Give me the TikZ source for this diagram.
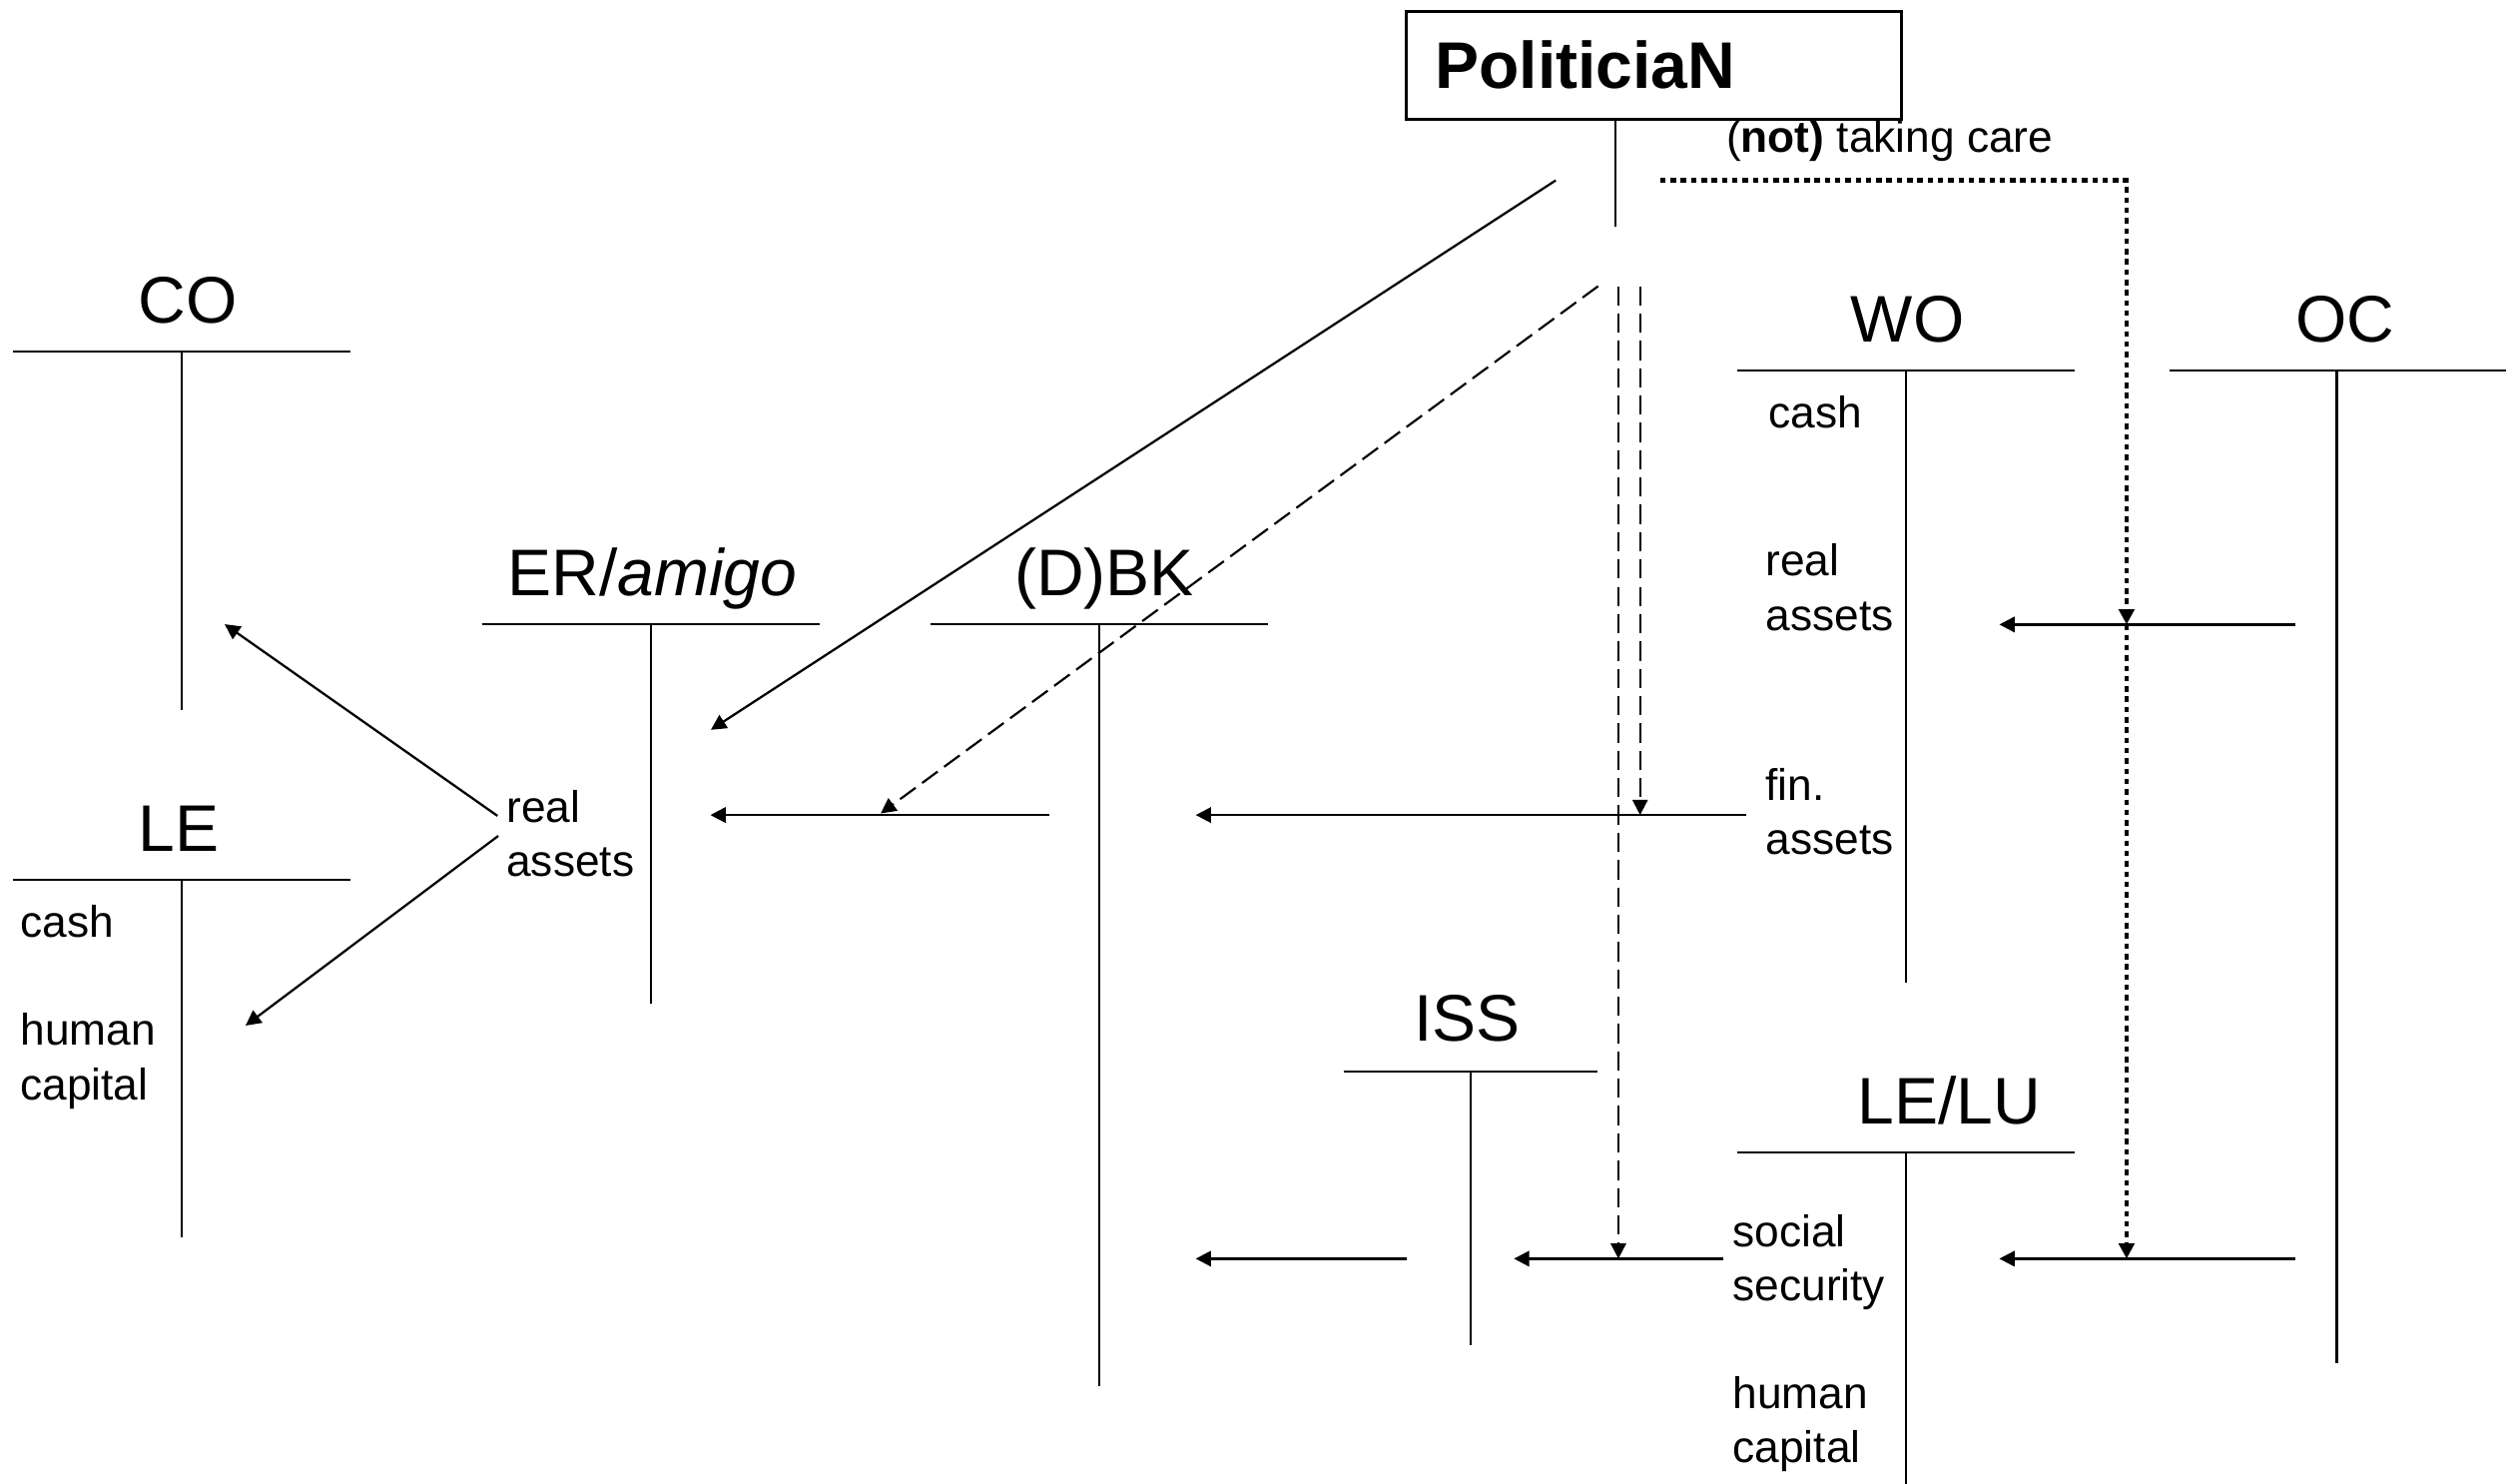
\documentclass[tikz,border=0pt]{standalone}
\usepackage{fontspec}
\setmainfont{Liberation Sans}
\usetikzlibrary{arrows.meta}
\begin{document}
\begin{tikzpicture}[x=1pt,y=-1pt,
  title/.style={font=\fontsize{41}{49}\selectfont, anchor=base, inner sep=0pt},
  % multi-line items are anchored at the baseline of their last line
  item/.style={font=\fontsize{27.5}{33.7}\selectfont, anchor=base west, inner sep=0pt, align=left},
  tline/.style={line width=1.3pt},
  tip/.style={-{Triangle[length=9.5pt,width=9.5pt]}},
  flow/.style={tip, line width=1.5pt},
  slant/.style={tip, line width=1.4pt},
  dashflow/.style={tip, line width=1.35pt, dash pattern=on 12pt off 5pt},
  dotflow/.style={tip, line width=3pt, dash pattern=on 3.4pt off 3pt},
  polbox/.style={draw, line width=1.9pt, minimum width=308pt, minimum height=67pt,
    inner xsep=18pt, inner ysep=0pt, text width=272pt, align=left,
    font=\fontsize{41}{49}\selectfont\bfseries},
]
\useasboundingbox (0,0) rectangle (1568,923);
\fill[white] (0,0) rectangle (1568,923);

% ---------- the politician ----------
\node[polbox] (pol) at (1029,40.5) {PoliticiaN};
\coordinate (stemtop) at (1005,74);
\coordinate (stembot) at (1005,141);
\draw[tline] (stemtop) -- (stembot);
\node[item] (care) at (1074,95) {(\textbf{not)} taking care};

% ---------- T-accounts: title, top bar, vertical stem ----------
% CO
\node[title] (co) at (117,201) {CO};
\coordinate (coL) at (8,218.5);   \coordinate (coR) at (218,218.5);
\coordinate (coT) at (113,218.5); \coordinate (coB) at (113,442);
\draw[tline] (coL) -- (coR) (coT) -- (coB);
% LE
\node[title] (le) at (111,529.5) {LE};
\coordinate (leL) at (8,547.5);   \coordinate (leR) at (218,547.5);
\coordinate (leT) at (113,547.5); \coordinate (leB) at (113,770);
\draw[tline] (leL) -- (leR) (leT) -- (leB);
\node[item] (lecash) at (12.5,583) {cash};
\node[item] (lehc) at (12.5,684) {human\\capital};
% ER/amigo
\node[title] (er) at (406,370.5) {ER/\textit{amigo}};
\coordinate (erL) at (300,388);   \coordinate (erR) at (510,388);
\coordinate (erT) at (405,388);   \coordinate (erB) at (405,624.5);
\draw[tline] (erL) -- (erR) (erT) -- (erB);
\node[item] (erra) at (315,545) {real\\assets};
% (D)BK
\node[title] (bk) at (687,370.5) {(D)BK};
\coordinate (bkL) at (579,388);   \coordinate (bkR) at (789,388);
\coordinate (bkT) at (684,388);   \coordinate (bkB) at (684,862);
\draw[tline] (bkL) -- (bkR) (bkT) -- (bkB);
% WO
\node[title] (wo) at (1187,212.5) {WO};
\coordinate (woL) at (1081,230.5); \coordinate (woR) at (1291,230.5);
\coordinate (woT) at (1186,230.5); \coordinate (woB) at (1186,611);
\draw[tline] (woL) -- (woR) (woT) -- (woB);
\node[item] (wocash) at (1100.5,266) {cash};
\node[item] (wora) at (1098.5,392) {real\\assets};
\node[item] (wofa) at (1098.5,531.5) {fin.\\assets};
% OC
\node[title] (oc) at (1459,212.5) {OC};
\coordinate (ocL) at (1350,230.5); \coordinate (ocR) at (1559,230.5);
\coordinate (ocT) at (1454,230.5); \coordinate (ocB) at (1454,848);
\draw[tline] (ocL) -- (ocR) (ocT) -- (ocB);
% ISS
\node[title] (iss) at (913,647.5) {ISS};
\coordinate (issL) at (836,666.5); \coordinate (issR) at (994,666.5);
\coordinate (issT) at (915,666.5); \coordinate (issB) at (915,836.5);
\draw[tline] (issL) -- (issR) (issT) -- (issB);
% LE/LU
\node[title] (lelu) at (1213,699) {LE/LU};
\coordinate (luL) at (1081,717);  \coordinate (luR) at (1291,717);
\coordinate (luT) at (1186,717);  \coordinate (luB) at (1186,923);
\draw[tline] (luL) -- (luR) (luT) -- (luB);
\node[item] (luss) at (1078,809) {social\\security};
\node[item] (luhc) at (1078,910) {human\\capital};

% ---------- flows ----------
% real assets of ER/amigo going to CO and LE
\coordinate (raUp) at (309.5,507.5);  \coordinate (coIn) at (139.8,388.3);
\coordinate (raDn) at (310,520);      \coordinate (leIn) at (152.8,638);
\draw[slant] (raUp) -- (coIn);
\draw[slant] (raDn) -- (leIn);
% politician to ER/amigo
\coordinate (polA) at (968,112.2);    \coordinate (erIn) at (442.3,454);
\draw[slant] (polA) -- (erIn);
% fin. assets row
\coordinate (bkOut) at (653,507);     \coordinate (erIn2) at (442,507);
\coordinate (woOut) at (1086.7,507);  \coordinate (bkIn) at (744,507);
\coordinate (bkHit) at (548,506);
\draw[flow] (bkOut) -- (erIn2);
\draw[flow] (woOut) -- (bkIn);
% dashed lines from the politician
\coordinate (polB) at (994.4,178);
\coordinate (polC) at (1020.5,178);   \coordinate (finHit) at (1020.5,507);
\coordinate (polD) at (1007,178);     \coordinate (ssHit) at (1007,783);
\draw[dashflow] (polB) -- (bkHit);
\draw[dashflow] (polC) -- (finHit);
\draw[dashflow] (polD) -- (ssHit);
% OC to WO (real assets) and OC to LE/LU (social security)
\coordinate (ocRa) at (1428,388.5);   \coordinate (woIn) at (1244,388.5);
\coordinate (ocSs) at (1428,783);     \coordinate (luIn) at (1244,783);
\draw[flow] (ocRa) -- (woIn);
\draw[flow] (ocSs) -- (luIn);
% social security row
\coordinate (luOut) at (1072.5,783);  \coordinate (issIn) at (942,783);
\coordinate (issOut) at (875.5,783);  \coordinate (bkIn2) at (744,783);
\draw[flow] (luOut) -- (issIn);
\draw[flow] (issOut) -- (bkIn2);
% dotted "(not) taking care" line
\coordinate (careA) at (1033,112.2);  \coordinate (careB) at (1323.2,112.2);
\coordinate (raHit) at (1323.2,388.5); \coordinate (ssHit2) at (1323.2,783);
\draw[dotflow] (careA) -- (careB) -- (raHit);
\draw[dotflow] (raHit) -- (ssHit2);
\end{tikzpicture}
\end{document}
